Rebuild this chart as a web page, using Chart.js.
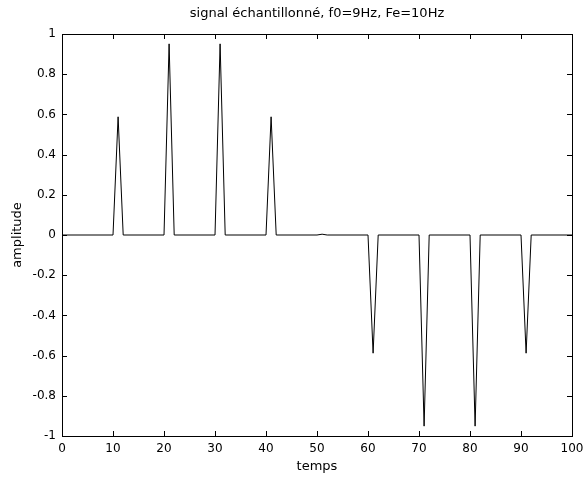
<!DOCTYPE html>
<html>
<head>
<meta charset="utf-8">
<script src="https://cdn.jsdelivr.net/npm/chart.js@4.4.0/dist/chart.umd.min.js"></script>
<style>
  html, body { margin: 0; padding: 0; background: #fff; overflow: hidden; }
  #wrap { width: 583px; height: 479px; }
</style>
</head>
<body>
<div id="wrap"><canvas id="chart"></canvas></div>
<script>
'use strict';

// vertices of the plotted line (temps, amplitude)
const temps = [0, 10, 11, 12, 20, 21, 22, 30, 31, 32, 40, 41, 42, 50, 51, 52,
  60, 61, 62, 70, 71, 72, 80, 81, 82, 90, 91, 92, 100];
const amplitude = [0, 0, 0.588, 0, 0, 0.951, 0, 0, 0.951, 0, 0, 0.588, 0, 0, 0.004, 0,
  0, -0.588, 0, 0, -0.951, 0, 0, -0.951, 0, 0, -0.588, 0, 0];

const FONT = '"DejaVu Sans", Arial, sans-serif';

// matlab style box with inward ticks on all 4 sides
const boxTicks = {
  id: 'boxTicks',
  afterDraw(chart) {
    const {ctx, chartArea: a, scales: {x, y}} = chart;
    const len = 5;
    ctx.save();
    ctx.strokeStyle = '#000';
    ctx.lineWidth = 1;
    ctx.beginPath();
    x.ticks.forEach(t => {
      const px = Math.round(x.getPixelForValue(t.value)) + 0.5;
      ctx.moveTo(px, a.bottom); ctx.lineTo(px, a.bottom - len);
      ctx.moveTo(px, a.top); ctx.lineTo(px, a.top + len);
    });
    y.ticks.forEach(t => {
      const py = Math.round(y.getPixelForValue(t.value)) + 0.5;
      ctx.moveTo(a.left, py); ctx.lineTo(a.left + len, py);
      ctx.moveTo(a.right, py); ctx.lineTo(a.right - len, py);
    });
    ctx.stroke();
    ctx.strokeRect(Math.round(a.left) + 0.5, Math.round(a.top) + 0.5,
      Math.round(a.right - a.left), Math.round(a.bottom - a.top));
    ctx.restore();
  }
};

new Chart(document.getElementById('chart'), {
  type: 'line',
  data: {
    datasets: [{
      data: temps.map((t, i) => ({x: t, y: amplitude[i]})),
      borderColor: '#000',
      borderWidth: 1,
      pointRadius: 0,
      tension: 0,
      fill: false
    }]
  },
  options: {
    responsive: true,
    maintainAspectRatio: false,
    animation: false,
    layout: {padding: {left: 0, right: 11, top: 0, bottom: 0}},
    plugins: {
      legend: {display: false},
      tooltip: {enabled: false},
      title: {
        display: true,
        fullSize: false,
        text: 'signal échantillonné, f0=9Hz, Fe=10Hz',
        color: '#000',
        font: {family: FONT, size: 13, weight: 'normal'},
        padding: {top: 6, bottom: 12.4}
      }
    },
    scales: {
      x: {
        type: 'linear',
        min: 0,
        max: 100,
        ticks: {stepSize: 10, color: '#000', padding: 6, maxRotation: 0,
          font: {family: FONT, size: 12}},
        grid: {display: false, drawTicks: false},
        border: {display: false},
        title: {display: true, text: 'temps', color: '#000',
          font: {family: FONT, size: 13}, padding: {top: 0, bottom: 5}},
        afterFit(s) { s.height = 43; s.paddingLeft = 0; s.paddingRight = 0; }
      },
      y: {
        min: -1,
        max: 1,
        ticks: {stepSize: 0.2, color: '#000', padding: 6,
          font: {family: FONT, size: 12},
          callback: v => String(Number(v.toFixed(1)))},
        grid: {display: false, drawTicks: false},
        border: {display: false},
        title: {display: true, text: 'amplitude', color: '#000',
          font: {family: FONT, size: 13}, padding: {top: 10, bottom: 0}},
        afterFit(s) { s.width = 62; }
      }
    }
  },
  plugins: [boxTicks]
});
</script>
</body>
</html>
